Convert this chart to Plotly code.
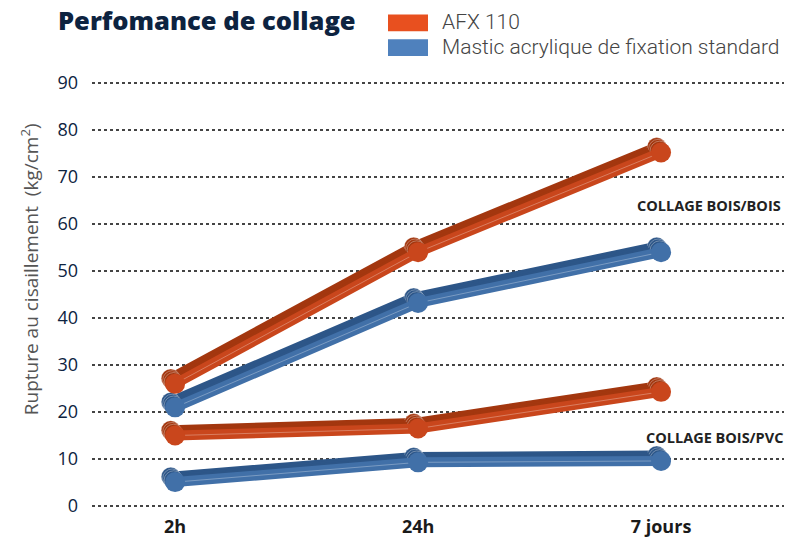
import plotly.graph_objects as go

categories = ["2h", "24h", "7 jours"]
series_names = ["AFX 110", "Mastic acrylique de fixation standard"]
afx_bois_bois = [26.0, 54.0, 75.2]
std_bois_bois = [21.0, 43.2, 54.0]
afx_bois_pvc = [15.0, 16.5, 24.3]
std_bois_pvc = [5.1, 9.3, 9.6]
y_ticks = [0, 10, 20, 30, 40, 50, 60, 70, 80, 90]
group_labels = ["COLLAGE BOIS/BOIS", "COLLAGE BOIS/PVC"]

x_idx = list(range(len(categories)))

ORANGE = "#C9461C"
ORANGE_D = "#A3370F"
BLUE = "#4170A8"
BLUE_D = "#2D5688"
LEG_OR = "#E8501F"
LEG_BL = "#4F81BD"

W, H = 786, 540
PL, PR, PT, PB = 92, 784, 70, 520  # plot area in pixels
PW, PH = PR - PL, PB - PT

yr = [-2.11, 92.74]
xr = [-0.342, 2.506]
# shadow layers (value-unit offsets), deepest first; front layer last
layers = [(0.018, 1.15), (0.012, 0.77), (0.006, 0.38)]
FRONT = len(layers) + 2

fig = go.Figure()
series = [(afx_bois_bois, ORANGE, ORANGE_D), (std_bois_bois, BLUE, BLUE_D),
          (afx_bois_pvc, ORANGE, ORANGE_D), (std_bois_pvc, BLUE, BLUE_D)]

# invisible trace to anchor the main axes
fig.add_trace(go.Scatter(x=x_idx, y=afx_bois_bois, mode="lines", line=dict(width=0),
                         showlegend=False, hoverinfo="skip", opacity=0))

for vals, col, dark in series:
    for k, (dx, dy) in enumerate(layers):
        ax = k + 2
        fig.add_trace(go.Scatter(x=x_idx, y=vals, xaxis="x%d" % ax, yaxis="y%d" % ax,
                                 mode="lines+markers",
                                 line=dict(color=dark, width=10),
                                 marker=dict(size=19, color=dark,
                                             line=dict(width=0.8, color="rgba(255,255,255,0.4)")),
                                 showlegend=False, hoverinfo="skip"))
    fig.add_trace(go.Scatter(x=x_idx, y=vals, xaxis="x%d" % FRONT, yaxis="y%d" % FRONT,
                             mode="lines", line=dict(color=col, width=10), showlegend=False))
    fig.add_trace(go.Scatter(x=x_idx, y=vals, xaxis="x%d" % FRONT, yaxis="y%d" % FRONT,
                             mode="lines", line=dict(color="rgba(255,255,255,0.3)", width=1),
                             showlegend=False, hoverinfo="skip"))

for vals, col, dark in series:
    fig.add_trace(go.Scatter(x=x_idx, y=vals, xaxis="x%d" % FRONT, yaxis="y%d" % FRONT,
                             mode="markers", marker=dict(size=20, color=col),
                             showlegend=False, hoverinfo="skip"))

layout_axes = {}
for k, (dx, dy) in enumerate(layers):
    ax = k + 2
    layout_axes["xaxis%d" % ax] = dict(range=[xr[0] + dx, xr[1] + dx], overlaying="x", visible=False)
    layout_axes["yaxis%d" % ax] = dict(range=[yr[0] - dy, yr[1] - dy], overlaying="y", visible=False)
layout_axes["xaxis%d" % FRONT] = dict(range=xr, overlaying="x", visible=False)
layout_axes["yaxis%d" % FRONT] = dict(range=yr, overlaying="y", visible=False)

fig.update_layout(
    width=W, height=H,
    margin=dict(l=PL, r=W - PR, t=PT, b=H - PB),
    paper_bgcolor="white", plot_bgcolor="white",
    font=dict(family="Open Sans", color="#0D2340"),
    title=dict(text="Perfomance de collage", x=58 / W, xanchor="left", xref="container",
               y=1 - 21 / H, yanchor="middle", yref="container",
               font=dict(size=25.5, color="#0D2340", family="Open Sans", weight=800)),
    xaxis=dict(range=xr, tickvals=x_idx, ticktext=["<b>%s</b>" % c for c in categories],
               showgrid=False, zeroline=False, showline=False, ticks="",
               ticklabelstandoff=-2,
               tickfont=dict(size=18, color="#1a1a1a")),
    yaxis=dict(range=yr, tickvals=y_ticks, showgrid=True, gridcolor="#444", griddash="dot",
               gridwidth=1.5, zeroline=False, showline=False, ticks="",
               ticklabelstandoff=13, tickfont=dict(size=18, color="#0D2340")),
    **layout_axes,
)

def px_x(p):
    return (p - PL) / PW

def px_y(p):
    return (PB - p) / PH

fig.add_annotation(text="Rupture au cisaillement  (kg/cm<sup>2</sup>)", xref="paper", yref="paper",
                   x=px_x(30), y=px_y(271), textangle=-90, xanchor="center", yanchor="middle",
                   showarrow=False, font=dict(size=19, color="#555", family="Open Sans"))

# legend drawn as boxes + text
leg = [(series_names[0], LEG_OR, 14, 31, 22), (series_names[1], LEG_BL, 39, 56, 47)]
for name, col, y0, y1, yc in leg:
    fig.add_shape(type="rect", xref="paper", yref="paper",
                  x0=px_x(388), x1=px_x(428), y0=px_y(y1), y1=px_y(y0),
                  fillcolor=col, line=dict(width=0))
    fig.add_annotation(text=name, xref="paper", yref="paper", x=px_x(440), y=px_y(yc),
                       xanchor="left", yanchor="middle", showarrow=False,
                       font=dict(size=21, color="#444", family="Roboto", weight=300))

fig.add_annotation(text="<b>%s</b>" % group_labels[0], xref="paper", yref="paper",
                   x=px_x(783), y=px_y(207), xanchor="right", yanchor="middle",
                   showarrow=False, font=dict(size=14.5, color="#222"))
fig.add_annotation(text="<b>%s</b>" % group_labels[1], xref="paper", yref="paper",
                   x=px_x(785), y=px_y(441), xanchor="right", yanchor="middle",
                   showarrow=False, font=dict(size=14.5, color="#222"))

fig.write_html("out.html", config={"displayModeBar": False},
               post_script="document.body.style.margin='0';document.body.style.overflow='hidden';")
